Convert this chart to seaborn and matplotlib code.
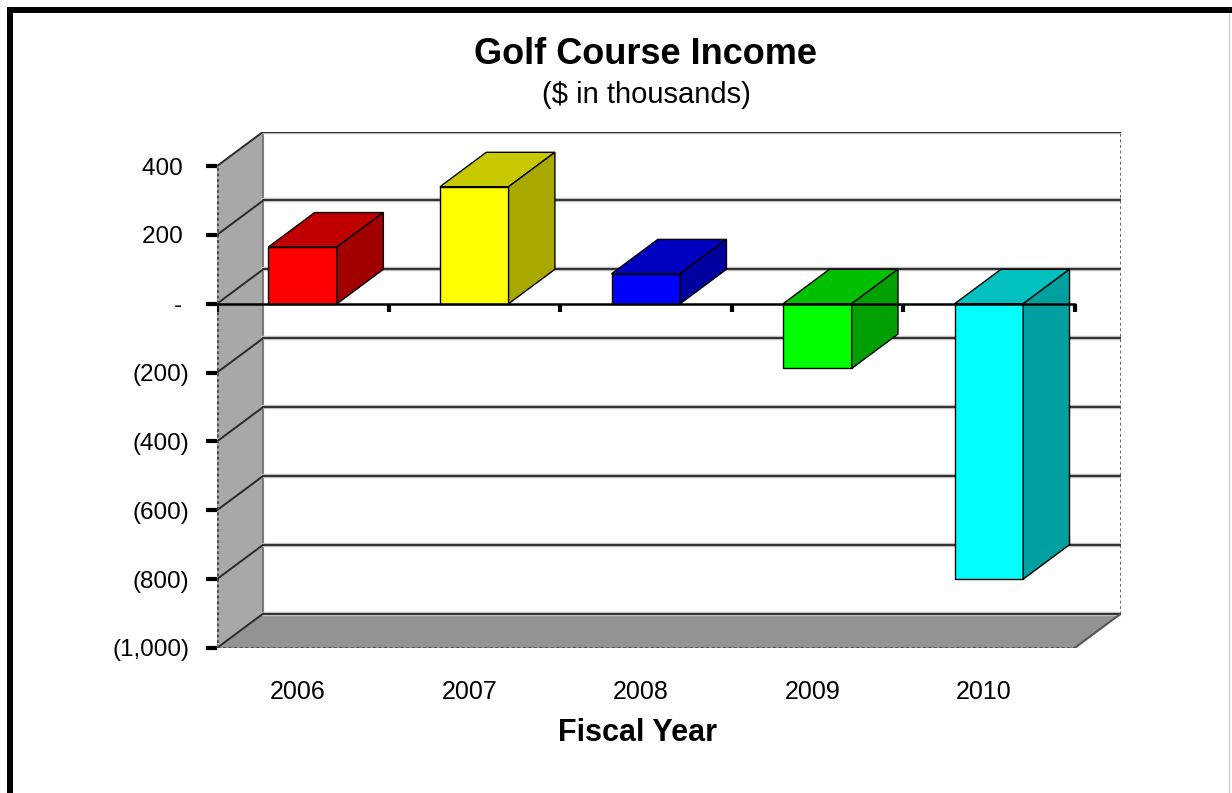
import matplotlib
matplotlib.use("Agg")
import matplotlib.pyplot as plt
import matplotlib.transforms as mtransforms
import seaborn as sns
from matplotlib.patches import Polygon, Rectangle
from matplotlib.lines import Line2D

# data ($ in thousands)
years = ["2006", "2007", "2008", "2009", "2010"]
income = [165, 340, 87, -188, -800]
y_ticks = [400, 200, 0, -200, -400, -600, -800, -1000]

# face colours per bar: front, top, side
front_colors = ["#ff0000", "#ffff00", "#0000ff", "#00ff00", "#00ffff"]
top_colors = ["#c00000", "#c8c800", "#0000c0", "#00c000", "#00c0c0"]
side_colors = ["#a00000", "#a8a800", "#0000a0", "#00a000", "#00a0a0"]


def acct_fmt(v):
    # excel accounting style: "-" for zero, parentheses for negatives
    if v == 0:
        return "- "
    if v < 0:
        return f"({-v:,})"
    return f"{v:,} "


sns.set_style("white")
plt.rcParams["font.family"] = ["Liberation Sans", "DejaVu Sans"]
plt.rcParams["text.color"] = "black"
plt.rcParams["xtick.color"] = "black"
plt.rcParams["ytick.color"] = "black"
plt.rcParams["axes.labelcolor"] = "black"

fig = plt.figure(figsize=(12.32, 7.93), dpi=100)
ax = fig.add_axes([0.1761, 0.1829, 0.7338, 0.6511])

# 3d depth offset in data units
dx, dy = 0.27, 100
x0, x1 = -0.5, 4.5
ymin, ymax = -1000, 400

# walls and floor
ax.add_patch(Polygon([(x0, ymin), (x0, ymax), (x0 + dx, ymax + dy), (x0 + dx, ymin + dy)],
                     closed=True, facecolor="#a8a8a8", edgecolor="none", zorder=0))
ax.add_patch(Polygon([(x0, ymin), (x1, ymin), (x1 + dx, ymin + dy), (x0 + dx, ymin + dy)],
                     closed=True, facecolor="#939393", edgecolor="none", zorder=0))
ax.plot([x0 + dx, x0 + dx], [ymin + dy, ymax + dy], color="#7a7a7a", lw=1.5, zorder=1)

# gridlines on back wall + side wall
for v in y_ticks:
    ax.plot([x0 + dx, x1 + dx], [v + dy, v + dy], color="#c8c8c8", lw=3.2, zorder=1)
    ax.plot([x0 + dx, x1 + dx], [v + dy, v + dy], color="#333333", lw=1.5, zorder=1)
    ax.plot([x0, x0 + dx], [v, v + dy], color="#2a2a2a", lw=1.4, zorder=1)

# dotted outer edges
ax.plot([x0, x0], [ymin, ymax], color="#444444", lw=2, ls=(0, (1, 1)), zorder=5)
ax.plot([x0, x1], [ymin, ymin], color="#444444", lw=2, ls=(0, (1, 1)), zorder=5)
ax.plot([x1 + dx, x1 + dx], [ymin + dy, ymax + dy], color="#555555", lw=2, ls=(0, (1, 1)), zorder=1)
ax.plot([x1, x1 + dx], [ymin, ymin + dy], color="#555555", lw=1.5, zorder=1)

# front faces of bars
sns.barplot(x=years, y=income, hue=years, palette=front_colors, legend=False, saturation=1,
            width=0.4, edgecolor="black", linewidth=1, ax=ax, zorder=3)

# top and side faces from each bar's geometry
for p in ax.patches:
    if not hasattr(p, "get_x") or p.get_width() > 1:
        continue
    bx = p.get_x()
    bw = p.get_width()
    i = int(round(bx + bw / 2))
    top = max(p.get_y() + p.get_height(), p.get_y())
    bot = min(p.get_y() + p.get_height(), p.get_y())
    ax.add_patch(Polygon([(bx, top), (bx + bw, top), (bx + bw + dx, top + dy), (bx + dx, top + dy)],
                         closed=True, facecolor=top_colors[i], edgecolor="black", lw=1, zorder=3))
    ax.add_patch(Polygon([(bx + bw, bot), (bx + bw, top), (bx + bw + dx, top + dy), (bx + bw + dx, bot + dy)],
                         closed=True, facecolor=side_colors[i], edgecolor="black", lw=1, zorder=3))

# zero axis line with category boundary ticks
ax.plot([x0, x1], [0, 0], color="black", lw=1.8, zorder=6)
for b in range(len(years) + 1):
    ax.plot([b - 0.5, b - 0.5], [0, -25], color="black", lw=3, zorder=6, solid_capstyle="butt")

ax.set_xlim(x0, x1 + dx)
ax.set_ylim(ymin, ymax + dy)
for s in ax.spines.values():
    s.set_visible(False)

ax.set_yticks(y_ticks)
ax.set_yticklabels([acct_fmt(v) for v in y_ticks], fontsize=17.5)
ax.tick_params(axis="y", length=8, width=3, color="black", pad=12, left=True)
ax.set_xticks(range(len(years)))
ax.set_xticklabels(years, fontsize=18)
ax.tick_params(axis="x", length=0, pad=23)
shift = mtransforms.ScaledTranslation(-5 / 100, 0, fig.dpi_scale_trans)
for lab in ax.get_xticklabels():
    lab.set_transform(lab.get_transform() + shift)
ax.set_xlabel("Fiscal Year", fontsize=22, fontweight="bold")
ax.xaxis.set_label_coords((638 - 217) / 904, -0.135)
ax.xaxis.label.set_va("top")
ax.set_ylabel("")

fig.text(646 / 1232, 1 - 55 / 793, "Golf Course Income", ha="center", va="center",
         fontsize=26, fontweight="bold")
fig.text(646 / 1232, 1 - 95 / 793, "($ in thousands)", ha="center", va="center", fontsize=21)

# chart frame (only top/left fall inside the image)
fig.patches.append(Rectangle((10 / 1232, -0.2), 1.3, 1.2 - 10 / 793, transform=fig.transFigure,
                             fill=False, edgecolor="black", lw=4.3, zorder=10))
fig.add_artist(Line2D([1229 / 1232, 1229 / 1232], [0, 1 - 13 / 793], transform=fig.transFigure,
                      color="#d0d0d0", lw=1))

fig.savefig("out.png", dpi=100)
